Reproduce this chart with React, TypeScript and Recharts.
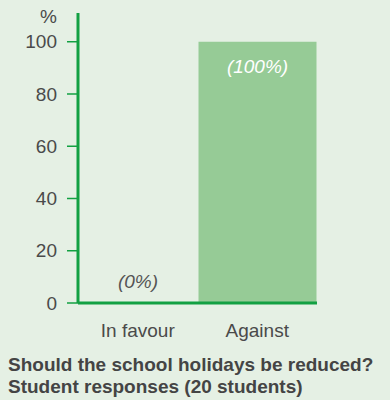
import { BarChart, Bar, XAxis, YAxis, LabelList } from 'recharts'

const categories = ['In favour', 'Against']
const percentages = [0, 100]
const yTicks = [0, 20, 40, 60, 80, 100]
const titleLines = ['Should the school holidays be reduced?', 'Student responses (20 students)']

const data = categories.map((name, i) => ({ name, value: percentages[i] }))

const FONT = '"Liberation Sans", Arial, Helvetica, sans-serif'
const AXIS_GREEN = '#12a042'
const BAR_GREEN = '#96cb96'
const TEXT = '#4a4a4a'

// value labels: inside the bar top when it has height, just above the axis otherwise
const renderValue = (props: any) => {
  const { x, y, width, height, value } = props
  const cx = Number(x) + Number(width) / 2
  const inside = Math.abs(Number(height)) > 30
  const base = Math.min(Number(y), Number(y) + Number(height))
  return (
    <text
      x={cx}
      y={inside ? base + 25 : base - 21}
      textAnchor="middle"
      dominantBaseline="central"
      fontStyle="italic"
      fontSize={19}
      fontFamily={FONT}
      fill={inside ? '#ffffff' : '#555555'}
    >
      {`(${value}%)`}
    </text>
  )
}

export default function App() {
  return (
    <div
      style={{
        position: 'absolute',
        left: 0,
        top: 0,
        width: 390,
        height: 400,
        background: '#e5f0e4',
        fontFamily: FONT,
      }}
    >
      <BarChart
        width={390}
        height={345}
        data={data}
        margin={{ top: 13, right: 73, left: 0, bottom: 0 }}
        barCategoryGap={1}
      >
        <XAxis
          dataKey="name"
          height={42}
          tickLine={false}
          tickSize={0}
          tickMargin={21}
          axisLine={{ stroke: AXIS_GREEN, strokeWidth: 3 }}
          tick={{ fill: TEXT, fontSize: 19, fontFamily: FONT }}
        />
        <YAxis
          width={78}
          domain={[0, 111]}
          ticks={yTicks}
          tickSize={11}
          tickMargin={10}
          axisLine={{ stroke: AXIS_GREEN, strokeWidth: 3 }}
          tickLine={{ stroke: AXIS_GREEN, strokeWidth: 1.5 }}
          tick={{ fill: TEXT, fontSize: 19, fontFamily: FONT }}
          label={{
            content: (p: any) => (
              <text
                x={p.viewBox.x + p.viewBox.width - 21}
                y={p.viewBox.y + 3}
                textAnchor="end"
                dominantBaseline="central"
                fontSize={19}
                fontFamily={FONT}
                fill={TEXT}
              >
                %
              </text>
            ),
          }}
        />
        <Bar dataKey="value" fill={BAR_GREEN} minPointSize={0.5} isAnimationActive={false}>
          <LabelList dataKey="value" content={renderValue} />
        </Bar>
      </BarChart>
      <div
        style={{
          marginLeft: 8,
          marginTop: 9,
          fontSize: 19,
          fontWeight: 'bold',
          color: '#444444',
          lineHeight: '22px',
          whiteSpace: 'nowrap',
        }}
      >
        {titleLines.map((line) => (
          <div key={line}>{line}</div>
        ))}
      </div>
    </div>
  )
}
